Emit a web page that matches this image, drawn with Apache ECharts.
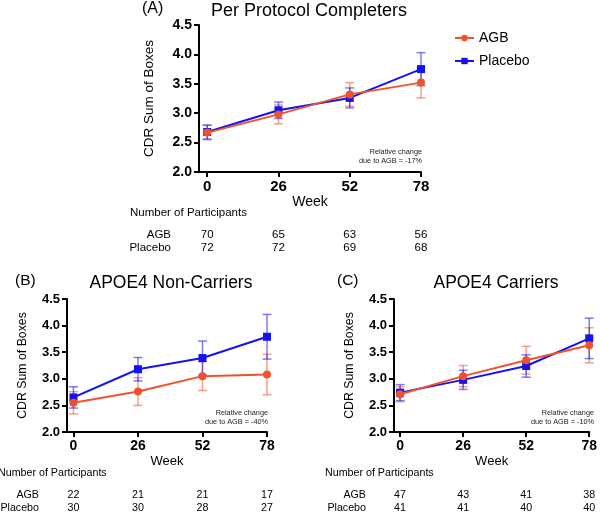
<!DOCTYPE html>
<html><head><meta charset="utf-8">
<script src="https://cdn.jsdelivr.net/npm/echarts@6/dist/echarts.min.js"></script>
<style>html,body{margin:0;padding:0;background:#fff}#c{width:600px;height:513px}</style>
</head><body><div id="c"></div>
<script>
// ---- data ----
const weeks = [0, 26, 52, 78];
const yTicks = [2.0, 4.5];

const A_agb = [2.67, 2.98, 3.32, 3.52];
const A_agbErr = [0.12, 0.16, 0.20, 0.26];
const A_pla = [2.68, 3.05, 3.26, 3.75];
const A_plaErr = [0.12, 0.14, 0.17, 0.28];

const B_agb = [2.55, 2.76, 3.05, 3.08];
const B_agbErr = [0.21, 0.26, 0.27, 0.38];
const B_pla = [2.65, 3.18, 3.39, 3.79];
const B_plaErr = [0.20, 0.22, 0.32, 0.42];

const C_agb = [2.71, 3.05, 3.35, 3.63];
const C_agbErr = [0.14, 0.20, 0.26, 0.33];
const C_pla = [2.74, 2.98, 3.24, 3.76];
const C_plaErr = [0.15, 0.18, 0.21, 0.38];

const A_nAgb = [70, 65, 63, 56];
const A_nPla = [72, 72, 69, 68];
const B_nAgb = [22, 21, 21, 17];
const B_nPla = [30, 30, 28, 27];
const C_nAgb = [47, 43, 41, 38];
const C_nPla = [41, 41, 40, 40];

const titles = ['Per Protocol Completers', 'APOE4 Non-Carriers', 'APOE4 Carriers'];
const letters = ['(A)', '(B)', '(C)'];
const notes = ['Relative change\ndue to AGB = -17%', 'Relative change\ndue to AGB = -40%', 'Relative change\ndue to AGB = -10%'];

// ---- layout ----
const ORANGE = '#F0522E', BLUE = '#1212F2';
const ORANGE_E = 'rgba(240,82,46,0.55)', BLUE_E = 'rgba(18,18,242,0.55)';
const FONT = '"Liberation Sans", Arial, Helvetica, sans-serif';

const panels = [
  {grid:{left:199, top:25, width:222, height:147}, xmin:-3, s:1.0, yGap:43, yName:13.5,
   agb:A_agb, agbE:A_agbErr, pla:A_pla, plaE:A_plaErr, nA:A_nAgb, nP:A_nPla,
   titleY:11, letterX:142, titleCx:309},
  {grid:{left:67, top:299, width:200, height:133}, xmin:-2.6, s:0.93, yGap:38, yName:12.3,
   agb:B_agb, agbE:B_agbErr, pla:B_pla, plaE:B_plaErr, nA:B_nAgb, nP:B_nPla,
   titleY:283, letterX:15, titleCx:171},
  {grid:{left:394, top:299, width:199, height:133}, xmin:-2.5, s:0.93, yGap:38, yName:12.3,
   agb:C_agb, agbE:C_agbErr, pla:C_pla, plaE:C_plaErr, nA:C_nAgb, nP:C_nPla,
   titleY:283, letterX:337, titleCx:496}
];

function errData(m, e){ return weeks.map((w,i)=>[w, m[i]-e[i], m[i]+e[i]]); }
function lineData(m){ return weeks.map((w,i)=>[w, m[i]]); }
function errRender(color){
  return function(params, api){
    const x = api.value(0), lo = api.value(1), hi = api.value(2);
    const p1 = api.coord([x, lo]), p2 = api.coord([x, hi]);
    const w = 4.5;
    const st = {stroke: color, lineWidth: 1.5};
    return {type:'group', children:[
      {type:'line', shape:{x1:p1[0], y1:p1[1], x2:p2[0], y2:p2[1]}, style:st},
      {type:'line', shape:{x1:p1[0]-w, y1:p1[1], x2:p1[0]+w, y2:p1[1]}, style:st},
      {type:'line', shape:{x1:p2[0]-w, y1:p2[1], x2:p2[0]+w, y2:p2[1]}, style:st}
    ]};
  };
}

const grids = [], xAxes = [], yAxes = [], series = [];
panels.forEach((p, k) => {
  grids.push(p.grid);
  xAxes.push({
    type:'value', gridIndex:k, min:p.xmin, max:78,
    name:'Week', nameLocation:'middle', nameGap:23,
    nameTextStyle:{fontFamily:FONT, fontSize:14*p.s, color:'#000'},
    axisLine:{onZero:false, lineStyle:{color:'#000', width:2}},
    axisTick:{customValues:weeks, length:5, lineStyle:{color:'#000', width:2}},
    axisLabel:{customValues:weeks, margin:7, fontFamily:FONT, fontWeight:'bold', fontSize:15*p.s, color:'#000'},
    splitLine:{show:false}
  });
  yAxes.push({
    type:'value', gridIndex:k, min:yTicks[0], max:yTicks[1], interval:0.5,
    name:'CDR Sum of Boxes', nameLocation:'middle', nameGap:p.yGap,
    nameTextStyle:{fontFamily:FONT, fontSize:p.yName, color:'#000'},
    axisLine:{show:true, onZero:false, lineStyle:{color:'#000', width:2}},
    axisTick:{show:true, length:5, lineStyle:{color:'#000', width:2}},
    axisLabel:{margin:7, fontFamily:FONT, fontWeight:'bold', fontSize:14*p.s, color:'#000',
      formatter: v => v.toFixed(1)},
    splitLine:{show:false}
  });
  series.push({type:'custom', name:'errAgb'+k, xAxisIndex:k, yAxisIndex:k, renderItem:errRender(ORANGE_E),
    data:errData(p.agb, p.agbE), encode:{x:0, y:[1,2]}, z:2, silent:true});
  series.push({type:'custom', name:'errPla'+k, xAxisIndex:k, yAxisIndex:k, renderItem:errRender(BLUE_E),
    data:errData(p.pla, p.plaE), encode:{x:0, y:[1,2]}, z:2, silent:true});
  series.push({type:'line', name:'Placebo', xAxisIndex:k, yAxisIndex:k, data:lineData(p.pla),
    symbol:'rect', symbolSize:8, color:BLUE, lineStyle:{color:BLUE, width:2}, itemStyle:{color:BLUE}, z:3, animation:false});
  series.push({type:'line', name:'AGB', xAxisIndex:k, yAxisIndex:k, data:lineData(p.agb),
    symbol:'circle', symbolSize:8, color:ORANGE, lineStyle:{color:ORANGE, width:2}, itemStyle:{color:ORANGE}, z:4, animation:false});
});

const chart = echarts.init(document.getElementById('c'), null, {renderer:'canvas'});
chart.setOption({
  animation:false,
  grid:grids, xAxis:xAxes, yAxis:yAxes, series:series,
  legend:{data:['AGB','Placebo'], orient:'vertical', left:449, top:26, itemWidth:19, itemHeight:8, itemGap:9,
    textStyle:{fontFamily:FONT, fontSize:14, color:'#000'}}
});

// text elements positioned from the axes
const g = [];
panels.forEach((p, k) => {
  const s = p.s;
  const gr = p.grid;
  const axisX = gr.left, axisY = gr.top + gr.height;
  g.push({type:'text', x:p.titleCx, y:p.titleY, style:{text:titles[k], fontFamily:FONT, fontSize:18*(k===0?1:0.97), fill:'#000', align:'center', verticalAlign:'middle'}});
  g.push({type:'text', x:p.letterX, y:p.titleY-2, style:{text:letters[k], fontFamily:FONT, fontSize:16*(k===0?1:0.97), fill:'#000', align:'left', verticalAlign:'middle'}});
  g.push({type:'text', x:gr.left+gr.width+1, y:gr.top+gr.height-25*s, style:{text:notes[k], fontFamily:FONT, fontSize:7.3, lineHeight:9, fill:'#222', align:'right', verticalAlign:'top'}});
  g.push({type:'text', x:axisX-69, y:axisY+41, style:{text:'Number of Participants', fontFamily:FONT, fontSize:11.5*s, fill:'#000', align:'left', verticalAlign:'middle'}});
  g.push({type:'text', x:axisX-28, y:axisY+63, style:{text:'AGB', fontFamily:FONT, fontSize:11.5*s, fill:'#000', align:'right', verticalAlign:'middle'}});
  g.push({type:'text', x:axisX-28, y:axisY+76, style:{text:'Placebo', fontFamily:FONT, fontSize:11.5*s, fill:'#000', align:'right', verticalAlign:'middle'}});
  weeks.forEach((w, i) => {
    const px = chart.convertToPixel({xAxisIndex:k}, w);
    g.push({type:'text', x:px, y:axisY+63, style:{text:String(p.nA[i]), fontFamily:FONT, fontSize:11.5*s, fill:'#000', align:'center', verticalAlign:'middle'}});
    g.push({type:'text', x:px, y:axisY+76, style:{text:String(p.nP[i]), fontFamily:FONT, fontSize:11.5*s, fill:'#000', align:'center', verticalAlign:'middle'}});
  });
});
chart.setOption({graphic:{elements:g}});
</script>
</body></html>
